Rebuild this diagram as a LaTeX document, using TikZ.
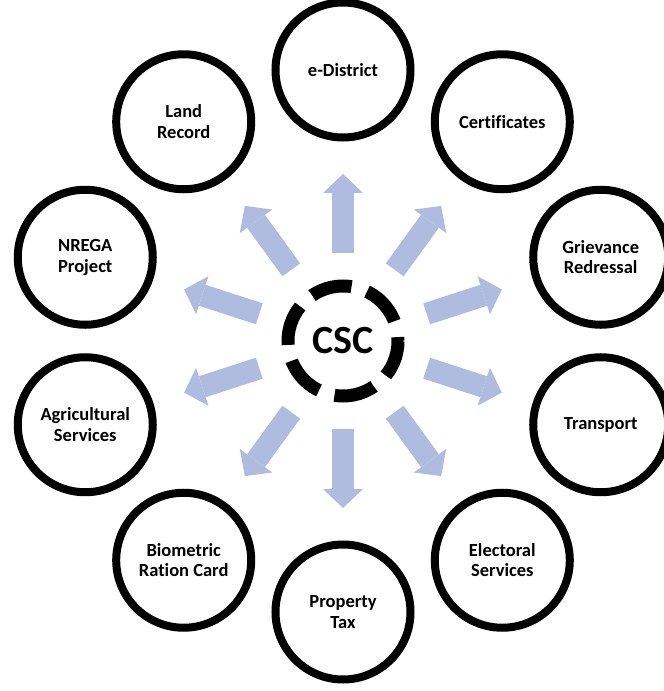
\documentclass[tikz,border=0pt]{standalone}
\usepackage{fontspec}
\setmainfont{Carlito}[Ligatures={TeX,NoCommon}]
\usepackage{xcolor}
\usepackage{tikz}
\usetikzlibrary{arrows.meta}

\definecolor{flowblue}{HTML}{AFBCDF}

\tikzset{
  service/.style={circle, draw, line width=8pt, minimum size=135pt, inner sep=0pt,
    align=center, font=\fontsize{18.5}{20.5}\selectfont\bfseries},
  hub/.style={circle, draw, line width=13pt, minimum size=110pt, inner sep=0pt,
    dash pattern=on 41.3pt off 16.3pt, dash phase=37.4pt,
    font=\fontsize{40}{40}\selectfont\bfseries},
  flow/.style={draw=flowblue, line width=22pt,
    -{Triangle[width=40pt,length=19pt,line width=0pt]},
    shorten <=26.5pt, shorten >=32.5pt}
}

\begin{document}
\begin{tikzpicture}[x=1pt,y=1pt]

\useasboundingbox (-343,-350) rectangle (321,341);

\node[hub] (csc) at (0,0) {CSC};

%%%%%%%%%%%%%%%
\node[service] (edist) at (90:271)   {e-District};
\node[service] (cert)  at (54:271)   {Certificates};
\node[service] (griev) at (18:271)   {Grievance\\Redressal};
\node[service] (trans) at (-18:271)  {Transport};
\node[service] (elect) at (-54:271)  {Electoral\\Services};
\node[service] (prop)  at (-90:271)  {Property\\Tax};
\node[service] (bio)   at (-126:271) {Biometric\\Ration Card};
\node[service] (agri)  at (-162:271) {Agricultural\\Services};
\node[service] (nrega) at (162:271)  {NREGA\\Project};
\node[service] (land)  at (126:271)  {Land\\Record};

%%%%%%%%%%%%%%%
\draw[flow] (csc) -- (edist);
\draw[flow] (csc) -- (cert);
\draw[flow] (csc) -- (griev);
\draw[flow] (csc) -- (trans);
\draw[flow] (csc) -- (elect);
\draw[flow] (csc) -- (prop);
\draw[flow] (csc) -- (bio);
\draw[flow] (csc) -- (agri);
\draw[flow] (csc) -- (nrega);
\draw[flow] (csc) -- (land);

\end{tikzpicture}
\end{document}
